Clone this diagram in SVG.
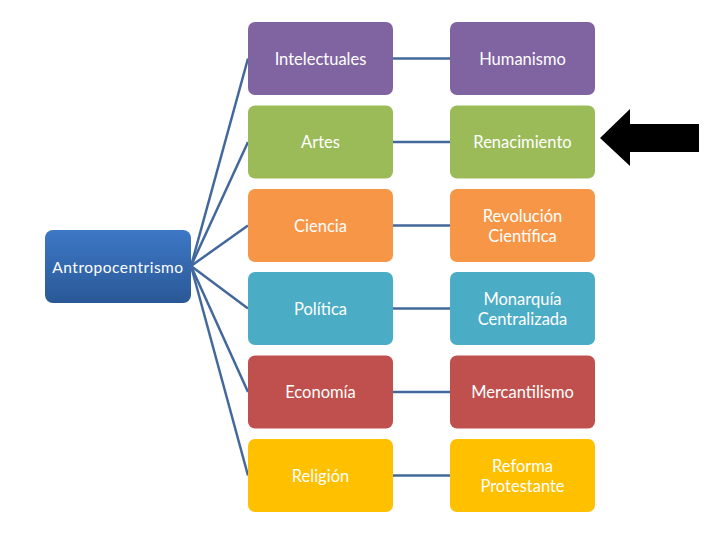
<svg xmlns="http://www.w3.org/2000/svg" width="720" height="540" viewBox="0 0 720 540">
<defs>
<style>
.box{stroke:none}
.t{font-family:Lato,"Open Sans","Liberation Sans",sans-serif;font-size:16.5px;fill:#ffffff;text-anchor:middle;dominant-baseline:central}
.c{stroke:#43689B;stroke-width:2.5;fill:none}
</style>
<linearGradient id="g" x1="0" y1="0" x2="0" y2="1">
<stop offset="0" stop-color="#3D78C6"/>
<stop offset="1" stop-color="#2A5896"/>
</linearGradient>
</defs>
<rect width="720" height="540" fill="#ffffff"/>
<g id="connectors">
<line class="c" x1="191" y1="266" x2="248" y2="58.5"/>
<line class="c" x1="191" y1="266" x2="248" y2="142"/>
<line class="c" x1="191" y1="266" x2="248" y2="225.5"/>
<line class="c" x1="191" y1="266" x2="248" y2="308.5"/>
<line class="c" x1="191" y1="266" x2="248" y2="392"/>
<line class="c" x1="191" y1="266" x2="248" y2="475.5"/>
<line class="c" x1="393" y1="58.5" x2="450" y2="58.5"/>
<line class="c" x1="393" y1="142" x2="450" y2="142"/>
<line class="c" x1="393" y1="225.5" x2="450" y2="225.5"/>
<line class="c" x1="393" y1="308.5" x2="450" y2="308.5"/>
<line class="c" x1="393" y1="392" x2="450" y2="392"/>
<line class="c" x1="393" y1="475.5" x2="450" y2="475.5"/>
</g>
<g id="antropocentrismo">
<rect x="45" y="230" width="146" height="73" rx="8" fill="url(#g)"/>
<text class="t" x="118" y="267" style="font-size:15.5px" letter-spacing="0.5">Antropocentrismo</text>
</g>
<g id="intelectuales">
<rect class="box" x="248" y="22" width="145" height="73" rx="7" fill="#8064A2"/>
<text class="t" x="320.5" y="58.5">Intelectuales</text>
</g>
<g id="humanismo">
<rect class="box" x="450" y="22" width="145" height="73" rx="7" fill="#8064A2"/>
<text class="t" x="522.5" y="58.5">Humanismo</text>
</g>
<g id="artes">
<rect class="box" x="248" y="105.5" width="145" height="73" rx="7" fill="#9BBB59"/>
<text class="t" x="320.5" y="142" fill="#FFFFF0">Artes</text>
</g>
<g id="renacimiento">
<rect class="box" x="450" y="105.5" width="145" height="73" rx="7" fill="#9BBB59"/>
<text class="t" x="522.5" y="142">Renacimiento</text>
</g>
<g id="ciencia">
<rect class="box" x="248" y="189" width="145" height="73" rx="7" fill="#F79646"/>
<text class="t" x="320.5" y="225.5">Ciencia</text>
</g>
<g id="revolucion">
<rect class="box" x="450" y="189" width="145" height="73" rx="7" fill="#F79646"/>
<text class="t" x="522.5" y="215.5">Revolución</text>
<text class="t" x="522.5" y="235.5">Científica</text>
</g>
<g id="politica">
<rect class="box" x="248" y="272" width="145" height="73" rx="7" fill="#4BACC6"/>
<text class="t" x="320.5" y="308.5">Política</text>
</g>
<g id="monarquia">
<rect class="box" x="450" y="272" width="145" height="73" rx="7" fill="#4BACC6"/>
<text class="t" x="522.5" y="298.5">Monarquía</text>
<text class="t" x="522.5" y="318.5">Centralizada</text>
</g>
<g id="economia">
<rect class="box" x="248" y="355.5" width="145" height="73" rx="7" fill="#C0504D"/>
<text class="t" x="320.5" y="392">Economía</text>
</g>
<g id="mercantilismo">
<rect class="box" x="450" y="355.5" width="145" height="73" rx="7" fill="#C0504D"/>
<text class="t" x="522.5" y="392">Mercantilismo</text>
</g>
<g id="religion">
<rect class="box" x="248" y="439" width="145" height="73" rx="7" fill="#FFC000"/>
<text class="t" x="320.5" y="475.5">Religión</text>
</g>
<g id="reforma">
<rect class="box" x="450" y="439" width="145" height="73" rx="7" fill="#FFC000"/>
<text class="t" x="522.5" y="465.5">Reforma</text>
<text class="t" x="522.5" y="485.5">Protestante</text>
</g>
<g id="arrow">
<polygon points="600,138 630,109 630,124 699,124 699,152 630,152 630,166" fill="#000000"/>
</g>
</svg>
